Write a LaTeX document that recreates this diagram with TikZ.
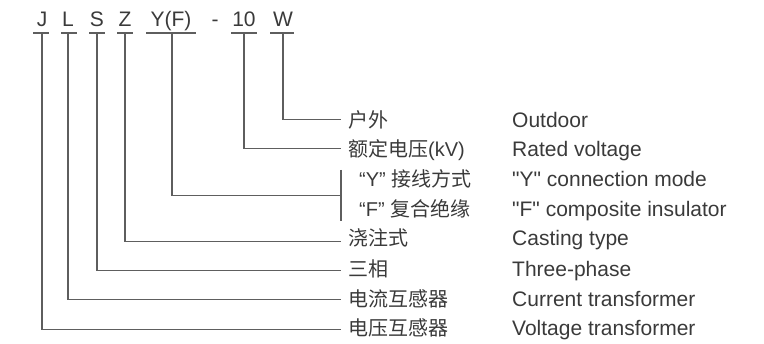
\documentclass[tikz,border=0pt]{standalone}
\usepackage{fontspec}
\setmainfont{Liberation Sans}[Ligatures=TeXOff]
\newfontfamily\cjk{Noto Sans CJK SC}
\definecolor{txt}{HTML}{3A3A3A}
\definecolor{ln}{HTML}{5E5E5E}
\begin{document}
\begin{tikzpicture}[x=1pt,y=-1pt,
  lat/.style={text=txt,inner sep=0pt,anchor=base west,font=\fontsize{21}{21}\selectfont},
  top/.style={text=txt,inner sep=0pt,anchor=base,font=\fontsize{21}{21}\selectfont},
  cn/.style={text=txt,inner sep=0pt,anchor=base west,font=\fontsize{20}{20}\selectfont},
  wire/.style={draw=ln,line width=1.2pt},
  bar/.style={draw=ln,line width=1.4pt}]
\useasboundingbox (0,0) rectangle (764,344);
% top code letters
\node[top] (tJ) at (42,27) {J};
\node[top] (tL) at (68,27) {L};
\node[top] (tS) at (97,27) {S};
\node[top] (tZ) at (125,27) {Z};
\node[top] (tY) at (171,27) {Y(F)};
\node[top] (tD) at (215,27) {-};
\node[top] (tT) at (244,27) {10};
\node[top] (tW) at (283,27) {W};
% underlines
\draw[bar] (33,33) -- (49,33);
\draw[bar] (61,33) -- (77,33);
\draw[bar] (89,33) -- (105,33);
\draw[bar] (117,33) -- (133,33);
\draw[bar] (146,33) -- (196,33);
\draw[bar] (231,33) -- (257,33);
\draw[bar] (270,33) -- (294,33);
% anchor coordinates at the underlines
\coordinate (uJ) at (42,33);
\coordinate (uL) at (68,33);
\coordinate (uS) at (97,33);
\coordinate (uZ) at (125,33);
\coordinate (uY) at (172,33);
\coordinate (uT) at (244,33);
\coordinate (uW) at (283,33);
% chinese labels
\node[cn] (c1) at (348,128) {\cjk 户外};
\node[cn] (c2) at (348,157) {\cjk 额定电压\fontspec{Liberation Sans}(kV)};
\node[cn] (c3) at (359,187) {{\fontspec{Liberation Sans}“Y”} \cjk 接线方式};
\node[cn] (c4) at (359,217) {{\fontspec{Liberation Sans}“F”} \cjk 复合绝缘};
\node[cn] (c5) at (348,246) {\cjk 浇注式};
\node[cn] (c6) at (348,277) {\cjk 三相};
\node[cn] (c7) at (348,307) {\cjk 电流互感器};
\node[cn] (c8) at (348,336) {\cjk 电压互感器};
% english labels
\node[lat] (e1) at (512,128) {Outdoor};
\node[lat] (e2) at (512,157) {Rated voltage};
\node[lat] (e3) at (512,187) {"Y" connection mode};
\node[lat] (e4) at (512,217) {"F" composite insulator};
\node[lat] (e5) at (512,246) {Casting type};
\node[lat] (e6) at (512,277) {Three-phase};
\node[lat] (e7) at (512,307) {Current transformer};
\node[lat] (e8) at (512,336) {Voltage transformer};
% line ends
\coordinate (r1) at (341,119.5);
\coordinate (r2) at (341,148.3);
\coordinate (r3) at (341,195.7);
\coordinate (r5) at (341,241.7);
\coordinate (r6) at (341,270.7);
\coordinate (r7) at (341,299.3);
\coordinate (r8) at (341,329.3);
\coordinate (bt) at (341,170);
\coordinate (bb) at (341,221);
% connectors
\draw[wire] (uW) |- (r1);
\draw[wire] (uT) |- (r2);
\draw[wire] (uY) |- (r3);
\draw[wire] (bt) -- (bb);
\draw[wire] (uZ) |- (r5);
\draw[wire] (uS) |- (r6);
\draw[wire] (uL) |- (r7);
\draw[wire] (uJ) |- (r8);
\end{tikzpicture}
\end{document}
